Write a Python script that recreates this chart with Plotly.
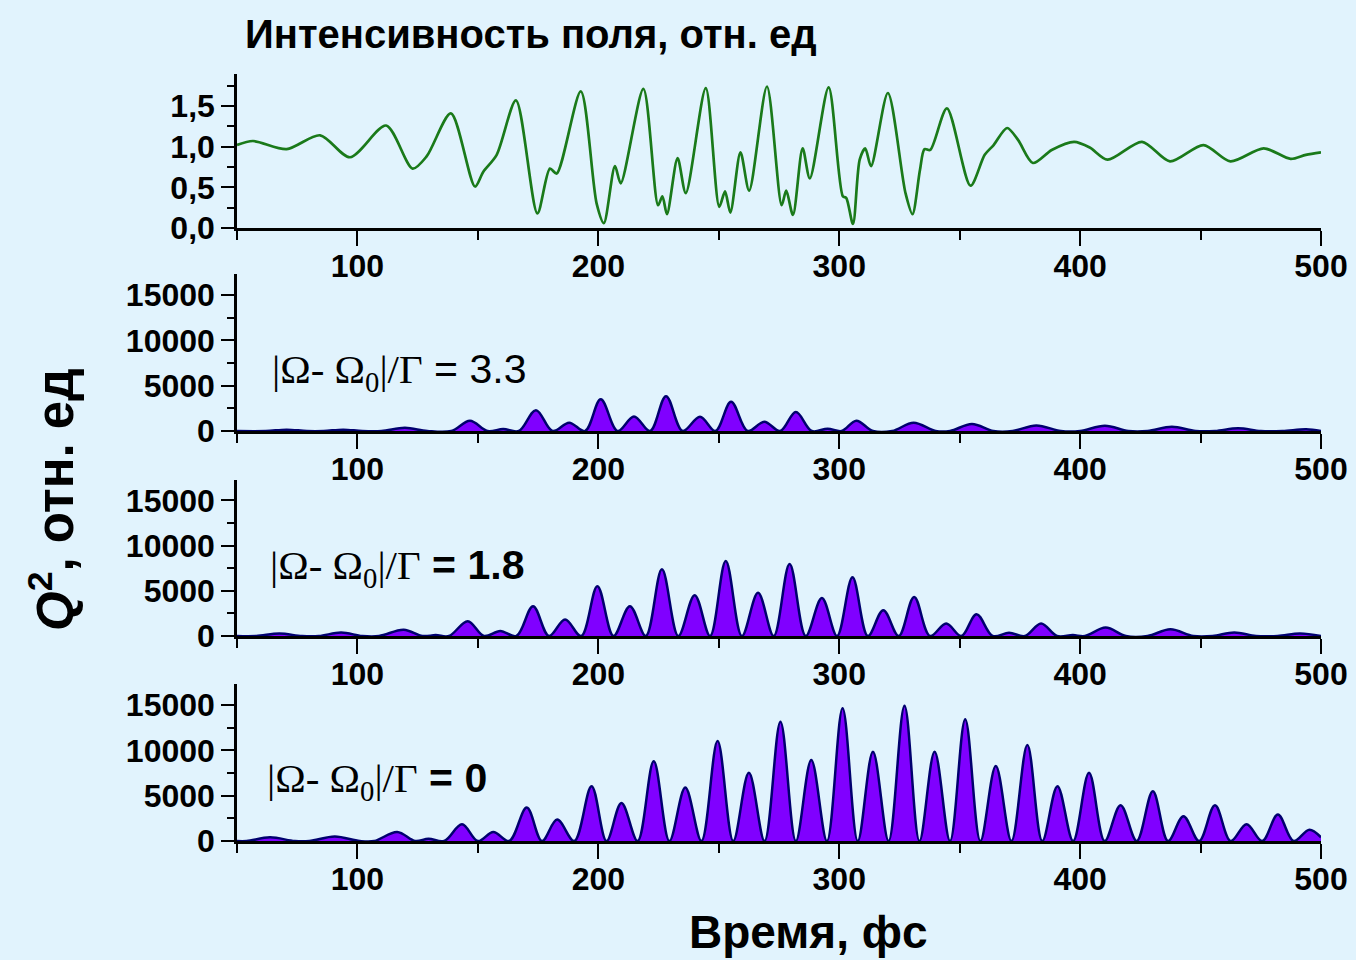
import plotly.graph_objects as go

# ---- field intensity (top panel) ----
field_t = [50.0, 56.6, 70.6, 84.5, 96.9, 111.9, 122.9, 128.7, 138.8, 148.8, 152.2, 157.8,
           165.8, 174.7, 179.9, 182.7, 192.7, 199.3, 202.3, 206.9, 209.3, 218.7, 224.8,
           226.6, 228.5, 232.9, 236.3, 244.6, 250.2, 252.6, 254.8, 259.0, 262.6, 270.0,
           276.1, 278.0, 280.8, 284.8, 287.8, 295.6, 301.5, 302.9, 305.7, 308.5, 310.8,
           313.2, 320.2, 327.5, 330.4, 333.5, 335.4, 337.8, 344.7, 354.5, 360.4, 364.1,
           369.7, 374.3, 380.4, 388.2, 397.5, 404.0, 411.4, 425.7, 437.3, 451.2, 462.4,
           476.2, 487.4, 493.7, 500.0]
field_v = [1.02, 1.07, 0.97, 1.14, 0.87, 1.26, 0.73, 0.88, 1.41, 0.51, 0.69, 0.90,
           1.57, 0.18, 0.73, 0.67, 1.68, 0.30, 0.06, 0.76, 0.55, 1.71, 0.28,
           0.39, 0.17, 0.86, 0.43, 1.72, 0.26, 0.45, 0.19, 0.93, 0.46, 1.74,
           0.28, 0.46, 0.16, 0.98, 0.61, 1.73, 0.39, 0.37, 0.05, 0.84, 0.98,
           0.76, 1.66, 0.43, 0.17, 0.71, 0.97, 0.96, 1.47, 0.52, 0.90, 1.02,
           1.23, 1.08, 0.80, 0.96, 1.06, 0.99, 0.84, 1.06, 0.82, 1.02, 0.82,
           0.98, 0.85, 0.90, 0.93]

# ---- Q^2, detuning 3.3 ----
q33_t = [50, 62, 70.6, 79, 86, 94.1, 102, 110, 119.7, 129, 139, 146.7, 154, 160.5, 167,
         174.1, 181, 187.9, 194.5, 201.0, 208, 214.8, 221.5, 228.1, 235, 242.2, 248.6,
         255.1, 262, 268.9, 275.5, 282.0, 288.6, 295.2, 301, 307.1, 314, 322, 330.9, 340,
         346, 355.1, 364, 372, 381.8, 392, 400, 410.3, 420, 428, 438.1, 448, 456, 465.6,
         475, 484, 493.8, 500]
q33_v = [0, 0, 150, 0, 0, 150, 0, 0, 350, 0, 0, 1130, 0, 220, 0,
         2300, 0, 920, 0, 3500, 0, 1610, 0, 3840, 0, 1570, 0,
         3220, 0, 1020, 0, 2090, 0, 260, 0, 1130, 0, 0, 910, 0,
         0, 770, 0, 0, 620, 0, 0, 580, 0, 0, 470, 0, 0, 300,
         0, 0, 180, 0]

# ---- Q^2, detuning 1.8 ----
q18_t = [50, 58, 67.6, 77, 84, 93.2, 102, 109, 119.2, 127, 132.5, 138, 145.8, 152.5,
         159.3, 166, 172.9, 179.5, 186.2, 192.9, 199.6, 206.3, 213.1, 219.7, 226.4, 233.2,
         240.0, 246.4, 252.9, 259.6, 266.3, 272.8, 279.4, 286.1, 292.8, 299.1, 305.5, 311.9,
         318.3, 324.7, 331.1, 337.7, 344.4, 350.7, 357.0, 363.7, 370.5, 377.1, 383.8, 390.4,
         397.0, 402, 410.6, 419, 428, 437.5, 447, 455, 464, 473, 482, 491.3, 500]
q18_v = [0, 0, 270, 0, 0, 380, 0, 0, 700, 0, 100, 0, 1630, 0,
         560, 0, 3300, 0, 1820, 0, 5520, 0, 3300, 0, 7380, 0,
         4520, 0, 8300, 0, 4780, 0, 7970, 0, 4200, 0, 6490, 0,
         2860, 0, 4330, 0, 1380, 0, 2410, 0, 350, 0, 1380, 0,
         100, 0, 930, 0, 0, 740, 0, 0, 400, 0, 0, 280, 0]

# ---- Q^2, exact resonance ----
q0_t = [50, 54, 63.7, 74, 80, 90.6, 101, 107, 116.5, 124, 129.5, 136, 143.4, 150, 156.4,
        163, 170.3, 176.6, 182.9, 190, 197.2, 203.4, 209.6, 216.3, 223.0, 229.5, 236.1,
        242.8, 249.5, 256, 262.5, 269, 275.6, 282, 288.4, 294.9, 301.4, 307.7, 314.0,
        320.5, 327.1, 333.3, 339.6, 346, 352.3, 358.6, 365.0, 371.5, 378.1, 384.3, 390.6,
        397.1, 403.7, 410.2, 416.8, 423.5, 430.2, 436.5, 442.9, 449.4, 456.0, 462.5,
        469.1, 475.6, 482.1, 488.6, 495.2, 500]
q0_v = [0, 0, 400, 0, 0, 500, 0, 0, 1000, 0, 250, 0, 1850, 0, 1000,
        0, 3690, 0, 2360, 0, 6050, 0, 4200, 0, 8800, 0, 5900,
        0, 11020, 0, 7520, 0, 13160, 0, 8920, 0, 14630, 0, 9840,
        0, 14900, 0, 9840, 0, 13420, 0, 8260, 0, 10580, 0, 6050,
        0, 7520, 0, 3950, 0, 5490, 0, 2730, 0, 3950, 0,
        1850, 0, 2910, 0, 1250, 400]

x_ticks = [100, 200, 300, 400, 500]
field_ticks = [0.0, 0.5, 1.0, 1.5]
field_tick_text = ["0,0", "0,5", "1,0", "1,5"]
q_ticks = [0, 5000, 10000, 15000]
q_tick_text = ["0", "5000", "10000", "15000"]

detuning_labels = ["3.3", "1.8", "0"]

W, H = 1356, 960
BG = "#e1f3fd"
SANS = "Liberation Sans, Arial, sans-serif"
SERIF = "Liberation Serif, Times New Roman, serif"


def px_x(px):
    return px / W


def px_y(py):
    return 1 - py / H


fig = go.Figure()

fig.add_trace(go.Scatter(
    x=field_t, y=field_v, mode="lines", xaxis="x", yaxis="y",
    line=dict(color="#1a7a1a", width=2.7, shape="spline", smoothing=0.8),
    showlegend=False, hoverinfo="skip"))

for i, (t, v) in enumerate([(q33_t, q33_v), (q18_t, q18_v), (q0_t, q0_v)], start=2):
    fig.add_trace(go.Scatter(
        x=t, y=v, mode="lines", fill="tozeroy", fillcolor="#8000ff",
        xaxis=f"x{i}", yaxis=f"y{i}",
        line=dict(color="#00006e", width=2.5, shape="spline", smoothing=1.0),
        showlegend=False, hoverinfo="skip"))

# panel pixel extents: (top, bottom)
panels = [(73.5, 228), (274.1, 431), (479.7, 636), (684.1, 841)]

tickfont = dict(family=SANS, size=32, color="black", weight="bold")
layout = dict(
    width=W, height=H,
    margin=dict(l=0, r=0, t=0, b=0, autoexpand=False),
    paper_bgcolor=BG, plot_bgcolor=BG,
    showlegend=False,
)

for i, (top, bot) in enumerate(panels, start=1):
    sfx = "" if i == 1 else str(i)
    layout[f"xaxis{sfx}"] = dict(
        domain=[px_x(237), px_x(1321)], range=[50, 500], automargin=False,
        anchor=f"y{sfx}", showgrid=False, zeroline=False,
        showline=True, linecolor="black", linewidth=2.5,
        ticks="outside", ticklen=15, tickwidth=2, tickcolor="black",
        tickvals=x_ticks, ticktext=[str(v) for v in x_ticks],
        tickfont=tickfont, ticklabelstandoff=-7,
        minor=dict(tickvals=[50, 150, 250, 350, 450], ticks="outside",
                   ticklen=9, tickwidth=2, tickcolor="black"),
    )
    if i == 1:
        yr, tv, tt, mv = [0, 1.9], field_ticks, field_tick_text, [0.25, 0.75, 1.25, 1.75]
    else:
        yr, tv, tt, mv = [0, 17300], q_ticks, q_tick_text, [2500, 7500, 12500]
    layout[f"yaxis{sfx}"] = dict(
        domain=[px_y(bot), px_y(top)], range=yr, automargin=False,
        anchor=f"x{sfx}", showgrid=False, zeroline=False,
        showline=True, linecolor="black", linewidth=2.5,
        ticks="outside", ticklen=13, tickwidth=2, tickcolor="black",
        tickvals=tv, ticktext=tt, tickfont=tickfont, ticklabelstandoff=0,
        minor=dict(tickvals=mv, ticks="outside", ticklen=7, tickwidth=2,
                   tickcolor="black"),
    )

fig.update_layout(**layout)

annotations = [
    dict(text="Интенсивность поля, отн. ед", x=px_x(243), y=px_y(34),
         xanchor="left", yanchor="middle",
         font=dict(family=SANS, size=40, weight="bold")),
    dict(text="Время, фс", x=px_x(808), y=px_y(932),
         xanchor="center", yanchor="middle",
         font=dict(family=SANS, size=46, weight="bold")),
    dict(text="<i>Q</i><sup>2</sup>, отн. ед", x=px_x(52), y=px_y(500),
         xanchor="center", yanchor="middle", textangle=-90,
         font=dict(family=SANS, size=51, weight="bold")),
]

label_pos = [(270, 372), (268, 568), (265, 781)]
for k, ((lx, ly), val) in enumerate(zip(label_pos, detuning_labels)):
    omega = (f'<span style="font-family:{SERIF}">|Ω- Ω<sub>0</sub>|/Γ</span>')
    tail = f" = {val}" if k == 0 else f"<b> = {val}</b>"
    annotations.append(dict(
        text=omega + tail, x=px_x(lx), y=px_y(ly),
        xanchor="left", yanchor="middle",
        font=dict(family=SANS, size=41, color="black")))

for a in annotations:
    a.update(xref="paper", yref="paper", showarrow=False)
    a.setdefault("font", {})
    a["font"].setdefault("color", "black")

fig.update_layout(annotations=annotations)

fig.write_html("out.html")
